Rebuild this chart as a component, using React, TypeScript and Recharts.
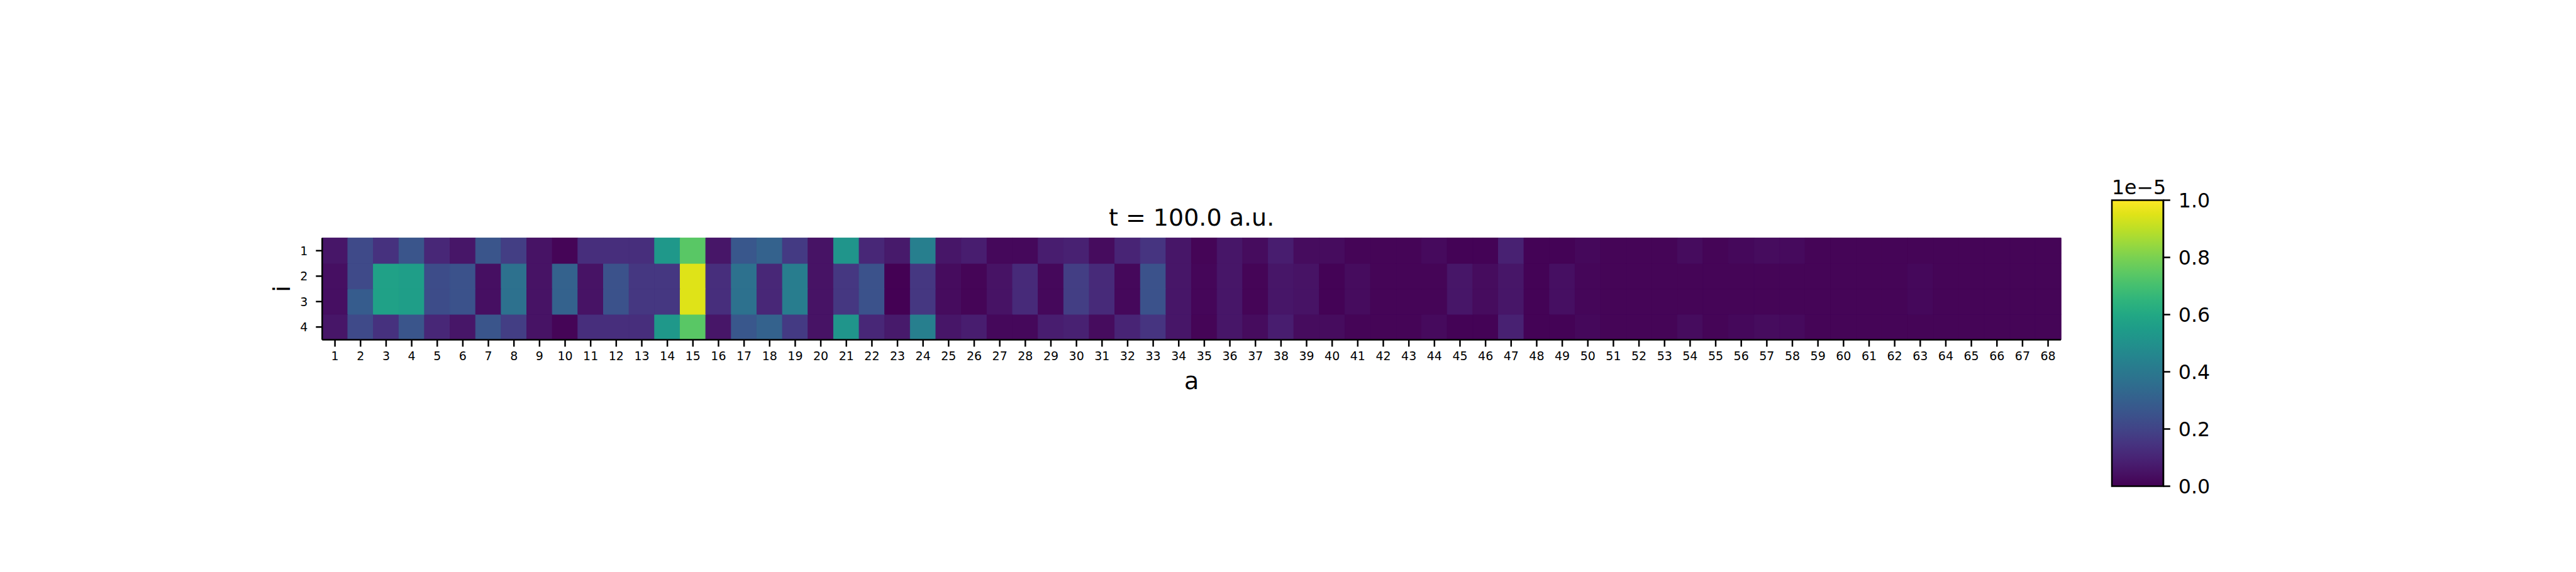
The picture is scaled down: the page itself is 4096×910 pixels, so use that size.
import React from 'react';
import { BarChart, Bar, Cell, XAxis, YAxis } from 'recharts';

// occupation per cell, in units of 1e-5 (colour scale 0..1)
const A_LABELS = Array.from({ length: 68 }, (_, i) => String(i + 1));
const I_TICKS = [0.5, 1.5, 2.5, 3.5];
const CBAR_TICKS = [0, 0.2, 0.4, 0.6, 0.8, 1.0];

const ROW1 = [
  0.06, 0.22, 0.14, 0.26, 0.11, 0.06, 0.26, 0.18, 0.05, 0.01, 0.13, 0.13, 0.13, 0.53, 0.74, 0.06, 0.27,
  0.31, 0.17, 0.05, 0.52, 0.11, 0.07, 0.43, 0.06, 0.08, 0.02, 0.02, 0.08, 0.09, 0.03, 0.1, 0.15, 0.06,
  0.01, 0.06, 0.03, 0.08, 0.03, 0.03, 0.01, 0.01, 0.01, 0.025, 0.005, 0.005, 0.09, 0.005, 0.005, 0.02, 0.01,
  0.01, 0.01, 0.03, 0.01, 0.02, 0.03, 0.025, 0.01, 0.01, 0.01, 0.01, 0.01, 0.01, 0.01, 0.01, 0.01, 0.01,
];
const ROW2 = [
  0.04, 0.22, 0.57, 0.56, 0.23, 0.25, 0.04, 0.37, 0.05, 0.31, 0.05, 0.25, 0.16, 0.16, 0.95, 0.13, 0.37,
  0.11, 0.42, 0.05, 0.16, 0.25, 0.0, 0.16, 0.03, 0.01, 0.05, 0.12, 0.02, 0.18, 0.12, 0.02, 0.25, 0.06,
  0.015, 0.06, 0.01, 0.06, 0.05, 0.005, 0.03, 0.01, 0.01, 0.01, 0.06, 0.03, 0.06, 0.005, 0.04, 0.015, 0.01,
  0.01, 0.01, 0.01, 0.01, 0.01, 0.01, 0.01, 0.01, 0.01, 0.01, 0.01, 0.02, 0.01, 0.01, 0.01, 0.01, 0.01,
];
const ROW3 = [
  0.04, 0.29, 0.57, 0.56, 0.23, 0.25, 0.04, 0.37, 0.05, 0.31, 0.05, 0.25, 0.16, 0.16, 0.95, 0.13, 0.37,
  0.11, 0.42, 0.05, 0.16, 0.25, 0.0, 0.16, 0.03, 0.01, 0.05, 0.12, 0.02, 0.18, 0.12, 0.02, 0.25, 0.06,
  0.015, 0.06, 0.01, 0.06, 0.05, 0.005, 0.03, 0.01, 0.01, 0.01, 0.06, 0.03, 0.06, 0.005, 0.04, 0.015, 0.01,
  0.01, 0.01, 0.01, 0.01, 0.01, 0.01, 0.01, 0.01, 0.01, 0.01, 0.01, 0.02, 0.01, 0.01, 0.01, 0.01, 0.01,
];
const ROW4 = [
  0.06, 0.22, 0.14, 0.26, 0.11, 0.06, 0.26, 0.18, 0.05, 0.01, 0.13, 0.13, 0.13, 0.53, 0.74, 0.06, 0.27,
  0.31, 0.17, 0.05, 0.52, 0.11, 0.07, 0.43, 0.06, 0.08, 0.02, 0.02, 0.08, 0.09, 0.03, 0.1, 0.15, 0.06,
  0.01, 0.06, 0.03, 0.08, 0.03, 0.03, 0.01, 0.01, 0.01, 0.025, 0.005, 0.005, 0.09, 0.005, 0.005, 0.02, 0.01,
  0.01, 0.01, 0.03, 0.01, 0.02, 0.03, 0.025, 0.01, 0.01, 0.01, 0.01, 0.01, 0.01, 0.01, 0.01, 0.01, 0.01,
];

const VIRIDIS = [
  '#440154', '#471365', '#482475', '#463480', '#414487', '#3b528b', '#355f8d', '#2f6c8e', '#2a788e',
  '#25848e', '#21918c', '#1e9c89', '#22a884', '#2fb47c', '#44bf70', '#5ec962', '#7ad151', '#9bd93c',
  '#bddf26', '#dfe318', '#fde725',
];

function hexToRgb(h: string) {
  return [parseInt(h.slice(1, 3), 16), parseInt(h.slice(3, 5), 16), parseInt(h.slice(5, 7), 16)];
}

function viridis(v: number) {
  const t = Math.max(0, Math.min(1, v)) * (VIRIDIS.length - 1);
  const i = Math.min(Math.floor(t), VIRIDIS.length - 2);
  const f = t - i;
  const a = hexToRgb(VIRIDIS[i]);
  const b = hexToRgb(VIRIDIS[i + 1]);
  const c = a.map((x, k) => Math.round(x + (b[k] - x) * f));
  return `rgb(${c[0]},${c[1]},${c[2]})`;
}

const data = A_LABELS.map((a) => ({ a, r1: 1, r2: 1, r3: 1, r4: 1 }));
const cbarData = [{ k: 'c', v: 1 }];

const FONT = 'DejaVu Sans';
const LW = 2.5;

// rows are stacked bottom-up: row 4 first, row 1 on top
const rows: [string, number[]][] = [
  ['r4', ROW4],
  ['r3', ROW3],
  ['r2', ROW2],
  ['r1', ROW1],
];

export default function App() {
  return (
    <div style={{ position: 'absolute', left: 0, top: 0, width: 4096, height: 910, background: '#fff', fontFamily: FONT }}>
      <div style={{ position: 'absolute', left: 0, top: 0 }}>
        <BarChart
          width={4096}
          height={910}
          data={data}
          barCategoryGap={0}
          barGap={0}
          margin={{ top: 378.6, right: 819.1, left: 432.3, bottom: 289.5 }}
        >
          {rows.map(([key, vals]) => (
            <Bar key={key} dataKey={key} stackId="s" isAnimationActive={false}>
              {vals.map((v, i) => (
                <Cell key={`${key}-${i}`} fill={viridis(v)} stroke={viridis(v)} strokeWidth={1} />
              ))}
            </Bar>
          ))}
          <XAxis
            dataKey="a"
            interval={0}
            height={80}
            tickSize={11}
            tickMargin={8}
            tick={{ fontSize: 19, fill: '#000', fontFamily: FONT }}
            axisLine={{ stroke: '#000', strokeWidth: LW }}
            tickLine={{ stroke: '#000', strokeWidth: LW }}
          />
          <XAxis
            xAxisId="top"
            dataKey="a"
            orientation="top"
            height={0}
            tick={false}
            tickLine={false}
            axisLine={{ stroke: '#000', strokeWidth: LW }}
          />
          <YAxis
            type="number"
            domain={[0, 4]}
            ticks={I_TICKS}
            width={80}
            tickSize={10}
            tickMargin={13}
            tickFormatter={(v: number) => String(4.5 - v)}
            tick={{ fontSize: 19, fill: '#000', fontFamily: FONT }}
            axisLine={{ stroke: '#000', strokeWidth: LW }}
            tickLine={{ stroke: '#000', strokeWidth: LW }}
          />
          <YAxis
            yAxisId="right"
            orientation="right"
            width={0}
            tick={false}
            tickLine={false}
            axisLine={{ stroke: '#000', strokeWidth: LW }}
          />
          <text x={1894.6} y={358.5} textAnchor="middle" fontSize={38} fontFamily={FONT} fill="#000">
            t = 100.0 a.u.
          </text>
          <text x={1894.6} y={619} textAnchor="middle" fontSize={38} fontFamily={FONT} fill="#000">
            a
          </text>
          <text
            x={460.5}
            y={459.5}
            textAnchor="middle"
            fontSize={38}
            fontFamily={FONT}
            fill="#000"
            transform="rotate(-90, 460.5, 459.5)"
          >
            i
          </text>
        </BarChart>
      </div>
      <div style={{ position: 'absolute', left: 0, top: 0 }}>
        <BarChart
          width={4096}
          height={910}
          data={cbarData}
          barCategoryGap={0}
          margin={{ top: 318.5, right: 556.2, left: 3358, bottom: 136.5 }}
        >
          <defs>
            <linearGradient id="viridisGrad" x1="0" y1="1" x2="0" y2="0">
              {VIRIDIS.map((c, i) => (
                <stop key={c} offset={`${(i / (VIRIDIS.length - 1)) * 100}%`} stopColor={c} />
              ))}
            </linearGradient>
          </defs>
          <Bar dataKey="v" fill="url(#viridisGrad)" stroke="#000" strokeWidth={LW} isAnimationActive={false} />
          <XAxis dataKey="k" hide />
          <YAxis
            orientation="right"
            type="number"
            domain={[0, 1]}
            ticks={CBAR_TICKS}
            width={100}
            tickSize={11}
            tickMargin={13}
            tickFormatter={(v: number) => v.toFixed(1)}
            tick={{ fontSize: 31.6, fill: '#000', fontFamily: FONT }}
            axisLine={{ stroke: '#000', strokeWidth: LW }}
            tickLine={{ stroke: '#000', strokeWidth: LW }}
          />
          <text x={3358} y={308.5} textAnchor="start" fontSize={31.6} fontFamily={FONT} fill="#000">
            1e−5
          </text>
        </BarChart>
      </div>
    </div>
  );
}
